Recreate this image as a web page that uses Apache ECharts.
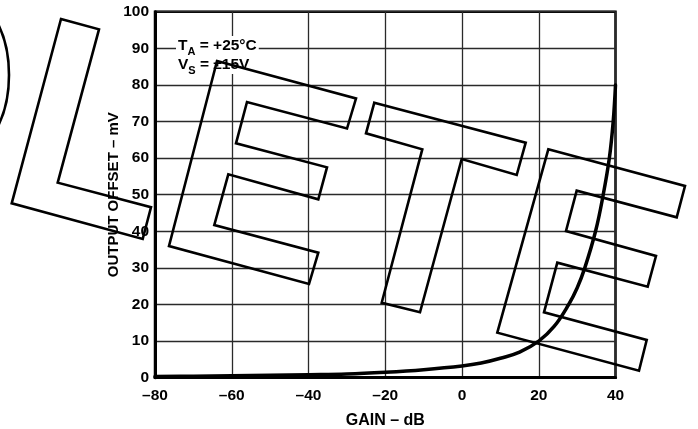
<!DOCTYPE html>
<html><head><meta charset="utf-8">
<script src="https://cdn.jsdelivr.net/npm/echarts@6/dist/echarts.min.js"></script>
<style>html,body{margin:0;padding:0;background:#fff}#c{width:698px;height:429px}</style>
</head><body><div id="c"></div>
<script>
// ---- data ----
const gainDb   = [-80, -70, -60, -50, -40, -30, -20, -10, 0, 5, 10, 15, 20, 24, 27.8, 30, 32, 34.8, 36.8, 38.4, 39.4, 40];
const offsetMv = [0.3, 0.4, 0.5, 0.65, 0.8, 1.0, 1.5, 2.2, 3.2, 4.0, 5.3, 7.0, 10, 14, 20, 24.5, 30, 40, 50, 60, 70, 80];
const xTicks = [-80, -60, -40, -20, 0, 20, 40];
const yTicks = [0, 10, 20, 30, 40, 50, 60, 70, 80, 90, 100];
const xName = 'GAIN – dB';
const yName = 'OUTPUT OFFSET – mV';
const noteLines = [['T', 'A', ' = +25°C'], ['V', 'S', ' = ±15V']];

// ---- "OBSOLETE" watermark outlines (decoration, pixel space) ----
const wmL  = [[61,19],[99,29.3],[57.7,182.7],[151,207.3],[142.7,239],[11.7,203.3]];
const wmE1 = [[217,61],[356,98.5],[347,128.5],[247,102],[236,143.3],[327,167.3],[318.3,199.3],[228.3,174.3],[214.3,225],[318.3,252.7],[309,284],[169,246]];
const wmT  = [[374.3,102.7],[525.7,142.7],[516.7,175],[461.7,159],[420,312.3],[381.7,302.7],[422.3,149.3],[366,133.3]];
const wmE2 = [[548.3,149.3],[685,186],[676.7,217.3],[576.7,190.7],[566,231],[656,256],[647.7,286.7],[557.3,262.7],[544,312.3],[646.7,340],[639,370.7],[497.3,332.7]];

const FONT = "'Liberation Sans', Arial, Helvetica, sans-serif";
const dash = v => String(v).replace('-', '–');

const chart = echarts.init(document.getElementById('c'), null, {renderer: 'canvas'});

const wmStyle = {fill: 'none', stroke: '#000', lineWidth: 2.6, lineJoin: 'miter'};
const poly = pts => ({type: 'polygon', z: 100, silent: true, shape: {points: pts}, style: wmStyle});

const noteRich = {
  m: {fontFamily: FONT, fontWeight: 'bold', fontSize: 15.5, color: '#000', lineHeight: 19},
  s: {fontFamily: FONT, fontWeight: 'bold', fontSize: 11, color: '#000', lineHeight: 19, verticalAlign: 'bottom', padding: [0, 0, -2, 0]}
};

chart.setOption({
  animation: false,
  backgroundColor: '#fff',
  grid: {left: 155, right: 82.5, top: 11.7, bottom: 51.3, containLabel: false, outerBoundsMode: 'none',
         show: true, borderColor: '#000', borderWidth: 2.5, backgroundColor: 'transparent'},
  xAxis: {
    type: 'value', min: xTicks[0], max: xTicks[xTicks.length - 1], interval: 20,
    name: xName, nameLocation: 'middle', nameGap: 35, nameMoveOverlap: false,
    nameTextStyle: {fontFamily: FONT, fontWeight: 'bold', fontSize: 16, color: '#000'},
    axisLine: {show: true, onZero: false, lineStyle: {color: '#000', width: 3}},
    axisTick: {show: false},
    axisLabel: {margin: 10, fontFamily: FONT, fontWeight: 'bold', fontSize: 15.5, color: '#000', formatter: v => dash(v)},
    splitLine: {show: true, lineStyle: {color: '#2a2a2a', width: 1.3}}
  },
  yAxis: {
    type: 'value', min: yTicks[0], max: yTicks[yTicks.length - 1], interval: 10,
    name: yName, nameLocation: 'middle', nameGap: 34, nameRotate: 90, nameMoveOverlap: false,
    nameTextStyle: {fontFamily: FONT, fontWeight: 'bold', fontSize: 15, color: '#000'},
    axisLine: {show: true, onZero: false, lineStyle: {color: '#000', width: 3}},
    axisTick: {show: false},
    axisLabel: {margin: 6, fontFamily: FONT, fontWeight: 'bold', fontSize: 15.5, color: '#000'},
    splitLine: {show: true, lineStyle: {color: '#2a2a2a', width: 1.3}}
  },
  series: [{
    type: 'line', smooth: 0.4, showSymbol: false, symbol: 'none',
    lineStyle: {color: '#000', width: 3.5, join: 'round', cap: 'round'},
    data: gainDb.map((g, i) => [g, offsetMv[i]]),
    z: 5
  }],
  graphic: [
    {type: 'text', z: 50, left: 176, top: 36, silent: true,
     style: {text: noteLines.map(l => '{m|' + l[0] + '}{s|' + l[1] + '}{m|' + l[2] + '}').join('\n'),
             rich: noteRich, backgroundColor: '#fff', padding: [0, 2, 0, 2]}},
    {type: 'ellipse', z: 100, silent: true, shape: {cx: -31, cy: 75, rx: 40, ry: 74}, style: wmStyle},
    poly(wmL), poly(wmE1), poly(wmT), poly(wmE2)
  ]
});
</script></body></html>
